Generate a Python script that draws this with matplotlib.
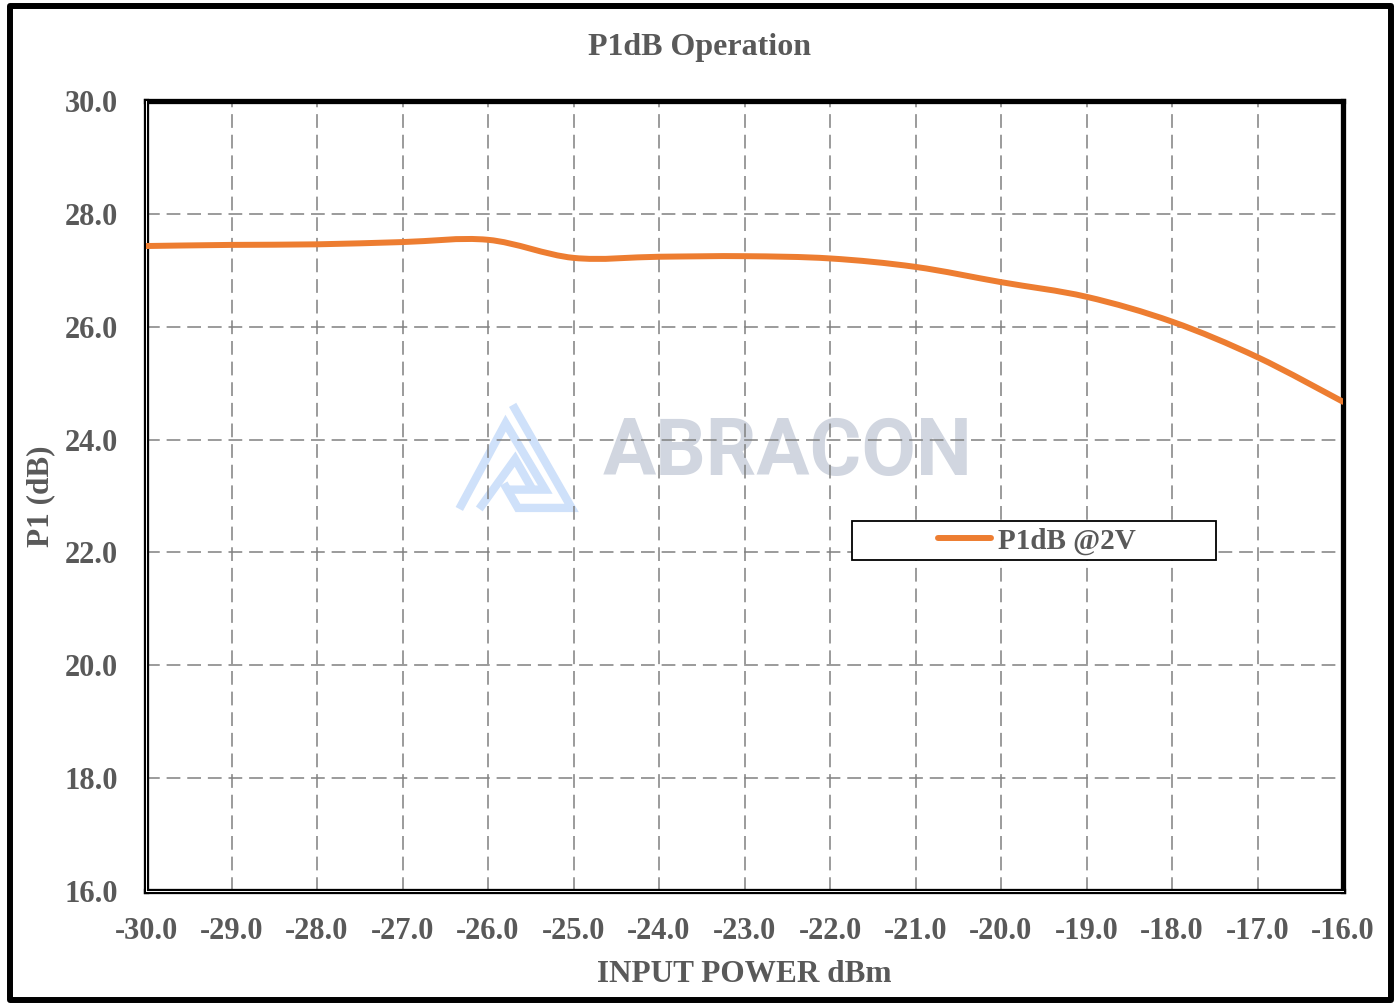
import matplotlib
matplotlib.use("Agg")
import matplotlib.pyplot as plt
from matplotlib.path import Path
from matplotlib.patches import PathPatch, Rectangle
from matplotlib.lines import Line2D

# ---------------- data ----------------
input_power = [-30, -29, -28, -27, -26, -25, -24, -23, -22, -21, -20, -19, -18, -17, -16]
p1db_2v = [27.43, 27.45, 27.46, 27.50, 27.54, 27.22, 27.24, 27.25, 27.21, 27.06,
           26.79, 26.53, 26.09, 25.46, 24.67]
series_label = "P1dB @2V"
title_text = "P1dB Operation"
xlabel_text = "INPUT POWER dBm"
ylabel_text = "P1 (dB)"
x_ticks = [-30, -29, -28, -27, -26, -25, -24, -23, -22, -21, -20, -19, -18, -17, -16]
y_ticks = [16, 18, 20, 22, 24, 26, 28, 30]

TXT = "#595959"
ORANGE = "#ED7D31"
W, H = 1398, 1006

plt.rcParams['font.family'] = ['Liberation Serif', 'DejaVu Serif']
plt.rcParams['font.weight'] = 'bold'

fig = plt.figure(figsize=(W / 100, H / 100), dpi=100)
fig.patch.set_facecolor("white")


def fx(px):
    return px / W


def fy(py):
    return 1 - py / H


ax = fig.add_axes([fx(146), fy(891), (1343 - 146) / W, (891 - 101) / H])
ax.set_xlim(-30, -16)
ax.set_ylim(16, 30)
ax.patch.set_alpha(0)

ax.set_xticks(x_ticks)
ax.set_yticks(y_ticks)
ax.set_xticklabels([f"{v:.1f}" for v in x_ticks])
ax.set_yticklabels([f"{v:.1f}" for v in y_ticks])
ax.tick_params(axis='both', length=0, labelsize=22, labelcolor=TXT)
ax.tick_params(axis='x', pad=19)
ax.tick_params(axis='y', pad=20)

ax.grid(True, color="#808080", linewidth=1.1, linestyle=(0, (9, 4.5)))

for s in ax.spines.values():
    s.set_color("black")
    s.set_linewidth(3.8)

# double-line effect on left / bottom spines
ax.plot([0, 0], [0, 1], transform=ax.transAxes, color="white", lw=0.7,
        clip_on=False, zorder=3)
ax.plot([0, 1], [0, 0], transform=ax.transAxes, color="white", lw=0.7,
        clip_on=False, zorder=3)

# ---------------- smoothed curve (Excel-like) ----------------
pts = list(zip(input_power, p1db_2v))
n = len(pts)
verts = [pts[0]]
codes = [Path.MOVETO]
for i in range(n - 1):
    p0 = pts[i - 1] if i > 0 else pts[i]
    p1 = pts[i]
    p2 = pts[i + 1]
    p3 = pts[i + 2] if i + 2 < n else pts[i + 1]
    c1 = (p1[0] + (p2[0] - p0[0]) / 6, p1[1] + (p2[1] - p0[1]) / 6)
    c2 = (p2[0] - (p3[0] - p1[0]) / 6, p2[1] - (p3[1] - p1[1]) / 6)
    verts += [c1, c2, p2]
    codes += [Path.CURVE4] * 3
curve = PathPatch(Path(verts, codes), facecolor="none", edgecolor=ORANGE,
                  linewidth=4.3, capstyle="round", joinstyle="round", zorder=3)
ax.add_patch(curve)

# ---------------- watermark logo ----------------
logo_col = "#CFE1FA"


def lp(zx, zy):
    return (fx(440 + zx / 2.85), fy(392 + zy / 2.95))


strokes = [
    [(55, 345), (187, 92), (300, 288), (190, 288)],
    [(207, 38), (375, 342), (222, 342), (182, 270)],
    [(112, 345), (214, 198), (262, 285)],
]
for st in strokes:
    xs = [lp(*p)[0] for p in st]
    ys = [lp(*p)[1] for p in st]
    ax.add_line(Line2D(xs, ys, transform=fig.transFigure, color=logo_col,
                       lw=6, solid_joinstyle="miter", solid_capstyle="butt",
                       clip_on=False, zorder=0.2))
ax.text(fx(788), fy(454), "ABRACON", transform=fig.transFigure,
        family="Roboto", fontweight="bold", fontsize=57, color="#D1D6E0",
        ha="center", va="center", zorder=0.2)

# ---------------- legend ----------------
frame = Rectangle((fx(852), fy(560)), (1216 - 852) / W, (560 - 521) / H,
                  transform=fig.transFigure, facecolor="white", edgecolor="black",
                  lw=1.3, zorder=4.5, clip_on=False)
ax.add_patch(frame)
handle = Line2D([], [], color=ORANGE, lw=4.3, solid_capstyle="round")
leg = ax.legend([handle], [series_label], loc="center",
                bbox_to_anchor=(fx(1037), fy(541)), bbox_transform=fig.transFigure,
                frameon=False, fontsize=21, handlelength=1.8, handletextpad=0.25,
                borderpad=0.2)
for t in leg.get_texts():
    t.set_color(TXT)
leg.set_zorder(5)

# ---------------- labels ----------------
fig.text(0.5, fy(47), title_text, ha="center", va="center", fontsize=23,
         color=TXT, fontweight="bold")
ax.set_xlabel(xlabel_text, fontsize=22.5, color=TXT, fontweight="bold")
ax.xaxis.set_label_coords(0.5, (891 - 975) / 790)
ax.xaxis.label.set_va("center")
ax.set_ylabel(ylabel_text, fontsize=22.5, color=TXT, fontweight="bold")
ax.yaxis.set_label_coords((41 - 146) / 1197, 0.5)
ax.yaxis.label.set_va("center")

# ---------------- outer border ----------------
border = Rectangle((fx(9.5), fy(1000)), (1391 - 9.5) / W, (1000 - 6) / H,
                   transform=fig.transFigure, fill=False, edgecolor="black",
                   lw=4.3, joinstyle="round")
fig.patches.append(border)

fig.savefig("out.png", dpi=100, facecolor="white")
